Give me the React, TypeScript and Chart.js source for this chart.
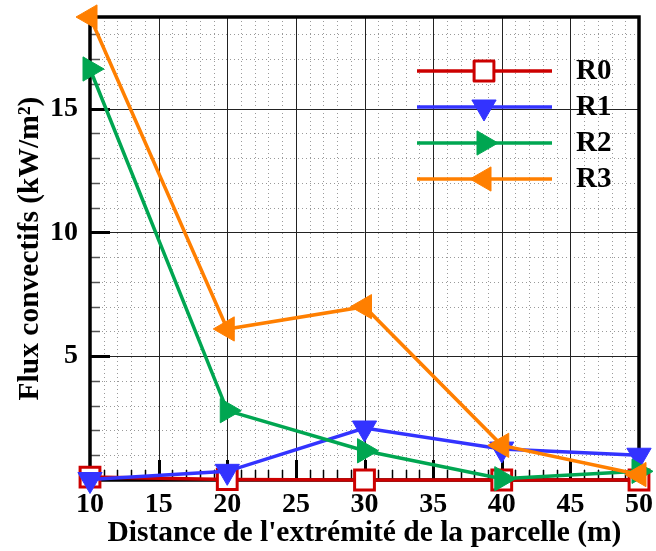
import React, { useEffect, useRef } from "react";
import { Chart, registerables } from "chart.js";

Chart.register(...registerables);

const distances = [10, 20, 30, 40, 50];
const r0Values = [0.12, 0.02, 0, 0, 0];
const r1Values = [0.02, 0.35, 2.1, 1.25, 1.0];
const r2Values = [16.6, 2.8, 1.18, 0.05, 0.35];
const r3Values = [18.7, 6.1, 7.0, 1.4, 0.22];
const seriesNames = ["R0", "R1", "R2", "R3"];
const seriesColors = ["#cc0000", "#3333ff", "#00a651", "#ff7f00"];
const xTitle = "Distance de l'extrémité de la parcelle (m)";
const yTitle = "Flux convectifs (kW/m²)";

const FONT = "'Liberation Serif', 'Times New Roman', serif";

function drawMarker(ctx: CanvasRenderingContext2D, ds: any, x: number, y: number) {
  const r = ds.pointRadius;
  const rot = ((ds.pointRotation || 0) * Math.PI) / 180;
  ctx.save();
  ctx.beginPath();
  if (ds.pointStyle === "rect") {
    const s = Math.SQRT1_2 * r;
    ctx.rect(x - s, y - s, 2 * s, 2 * s);
  } else {
    let a = rot;
    ctx.moveTo(x + Math.sin(a) * r, y - Math.cos(a) * r);
    a += (2 * Math.PI) / 3;
    ctx.lineTo(x + Math.sin(a) * r, y - Math.cos(a) * r);
    a += (2 * Math.PI) / 3;
    ctx.lineTo(x + Math.sin(a) * r, y - Math.cos(a) * r);
    ctx.closePath();
  }
  ctx.fillStyle = ds.pointBackgroundColor;
  ctx.fill();
  ctx.lineWidth = ds.pointBorderWidth;
  ctx.strokeStyle = ds.pointBorderColor;
  ctx.lineJoin = "round";
  ctx.stroke();
  ctx.restore();
}

const framePlugin = {
  id: "frame",
  beforeDatasetsDraw(chart: any) {
    const { ctx, chartArea } = chart;
    const { left, right, top, bottom } = chartArea;
    const xs = chart.scales.x;
    const ys = chart.scales.y;
    ctx.save();
    ctx.strokeStyle = "#9a9a9a";
    ctx.lineWidth = 1;
    ctx.setLineDash([1, 3]);
    for (let v = 11; v < 50; v++) {
      if (v % 5 === 0) continue;
      const px = Math.round(xs.getPixelForValue(v)) + 0.5;
      ctx.beginPath();
      ctx.moveTo(px, top);
      ctx.lineTo(px, bottom);
      ctx.stroke();
    }
    for (let v = 1; v < 19; v++) {
      if (v % 5 === 0) continue;
      const py = Math.round(ys.getPixelForValue(v)) + 0.5;
      if (py < top) continue;
      ctx.beginPath();
      ctx.moveTo(left, py);
      ctx.lineTo(right, py);
      ctx.stroke();
    }
    ctx.setLineDash([]);
    ctx.strokeStyle = "#222";
    ctx.lineWidth = 1;
    for (let v = 15; v < 50; v += 5) {
      const px = Math.round(xs.getPixelForValue(v)) + 0.5;
      ctx.beginPath();
      ctx.moveTo(px, top);
      ctx.lineTo(px, bottom);
      ctx.stroke();
    }
    for (let v = 5; v < 19; v += 5) {
      const py = Math.round(ys.getPixelForValue(v)) + 0.5;
      ctx.beginPath();
      ctx.moveTo(left, py);
      ctx.lineTo(right, py);
      ctx.stroke();
    }
    ctx.strokeStyle = "#000";
    for (let v = 11; v < 50; v++) {
      const px = Math.round(xs.getPixelForValue(v)) + 0.5;
      const major = v % 5 === 0;
      ctx.lineWidth = major ? 3 : 1.5;
      ctx.beginPath();
      ctx.moveTo(px, bottom);
      ctx.lineTo(px, bottom - (major ? 20 : 10));
      ctx.stroke();
    }
    for (let v = 1; v < 19; v++) {
      const py = Math.round(ys.getPixelForValue(v)) + 0.5;
      const major = v % 5 === 0;
      ctx.lineWidth = major ? 3 : 1.5;
      ctx.strokeStyle = major ? "#000" : "#555";
      ctx.beginPath();
      ctx.moveTo(left, py);
      ctx.lineTo(left + (major ? 20 : 10), py);
      ctx.stroke();
    }
    ctx.strokeStyle = "#000";
    ctx.lineWidth = 3.5;
    ctx.strokeRect(left, top, right - left, bottom - top);
    ctx.restore();
  },
  afterDatasetsDraw(chart: any) {
    const { ctx } = chart;
    ctx.save();
    const x0 = 417;
    const x1 = 552;
    const xm = 484;
    const y0 = 71;
    const dy = 36;
    chart.data.datasets.forEach((ds: any, i: number) => {
      const y = y0 + i * dy;
      ctx.strokeStyle = ds.borderColor;
      ctx.lineWidth = ds.borderWidth;
      ctx.beginPath();
      ctx.moveTo(x0, y);
      ctx.lineTo(x1, y);
      ctx.stroke();
      drawMarker(ctx, ds, xm, y);
      ctx.fillStyle = "#000";
      ctx.font = `bold 29px ${FONT}`;
      ctx.textBaseline = "middle";
      ctx.textAlign = "left";
      ctx.fillText(ds.label, 576, y + 1);
    });
    ctx.restore();
  },
};

const seriesValues = [r0Values, r1Values, r2Values, r3Values];
const styles = ["rect", "triangle", "triangle", "triangle"];
const rotations = [0, 180, 90, 270];

export default function App() {
  const ref = useRef<HTMLCanvasElement>(null);
  useEffect(() => {
    document.body.style.margin = "0";
    const datasets = seriesNames.map((name, i) => ({
      label: name,
      data: distances.map((d, j) => ({ x: d, y: seriesValues[i][j] })),
      borderColor: seriesColors[i],
      borderWidth: 3.5,
      pointStyle: styles[i],
      pointRotation: rotations[i],
      pointRadius: 14,
      pointBorderWidth: i === 0 ? 3 : 1,
      pointBackgroundColor: i === 0 ? "#ffffff" : seriesColors[i],
      pointBorderColor: seriesColors[i],
      order: 3 - i,
      clip: false,
      tension: 0,
    }));
    const chart = new Chart(ref.current!, {
      type: "line",
      data: { datasets },
      plugins: [framePlugin],
      options: {
        animation: false,
        responsive: false,
        layout: { padding: { top: 16, right: 15, left: 0, bottom: 0 } },
        plugins: { legend: { display: false }, tooltip: { enabled: false } },
        scales: {
          x: {
            type: "linear",
            min: 10,
            max: 50,
            grid: { display: false, drawTicks: false },
            border: { display: false },
            ticks: {
              stepSize: 5,
              color: "#000",
              font: { family: FONT, size: 28, weight: "bold" },
              padding: 8,
              maxRotation: 0,
              autoSkip: false,
              includeBounds: false,
            },
            title: {
              display: true,
              text: xTitle,
              color: "#000",
              font: { family: FONT, size: 29.5, weight: "bold", lineHeight: 1 },
              padding: { top: 0, bottom: 2.5 },
            },
            afterFit(scale: any) {
              scale.height = 71;
              scale.paddingLeft = 0;
              scale.paddingRight = 0;
            },
          },
          y: {
            type: "linear",
            min: 0,
            max: 18.7,
            grid: { display: false, drawTicks: false },
            border: { display: false },
            ticks: {
              stepSize: 5,
              color: "#000",
              font: { family: FONT, size: 28, weight: "bold" },
              padding: 12,
              includeBounds: false,
              callback: (v: any) => (v === 0 ? "" : String(v)),
            },
            title: {
              display: true,
              text: yTitle,
              color: "#000",
              font: { family: FONT, size: 29.5, weight: "bold", lineHeight: 1 },
              padding: { top: 16, bottom: 0 },
            },
            afterFit(scale: any) {
              scale.width = 90;
              scale.paddingTop = 0;
              scale.paddingBottom = 0;
            },
          },
        },
      } as any,
    });
    return () => chart.destroy();
  }, []);
  return (
    <div style={{ position: "absolute", left: 0, top: 0, width: 656, height: 551, background: "#fff" }}>
      <canvas ref={ref} width={656} height={551} />
    </div>
  );
}
